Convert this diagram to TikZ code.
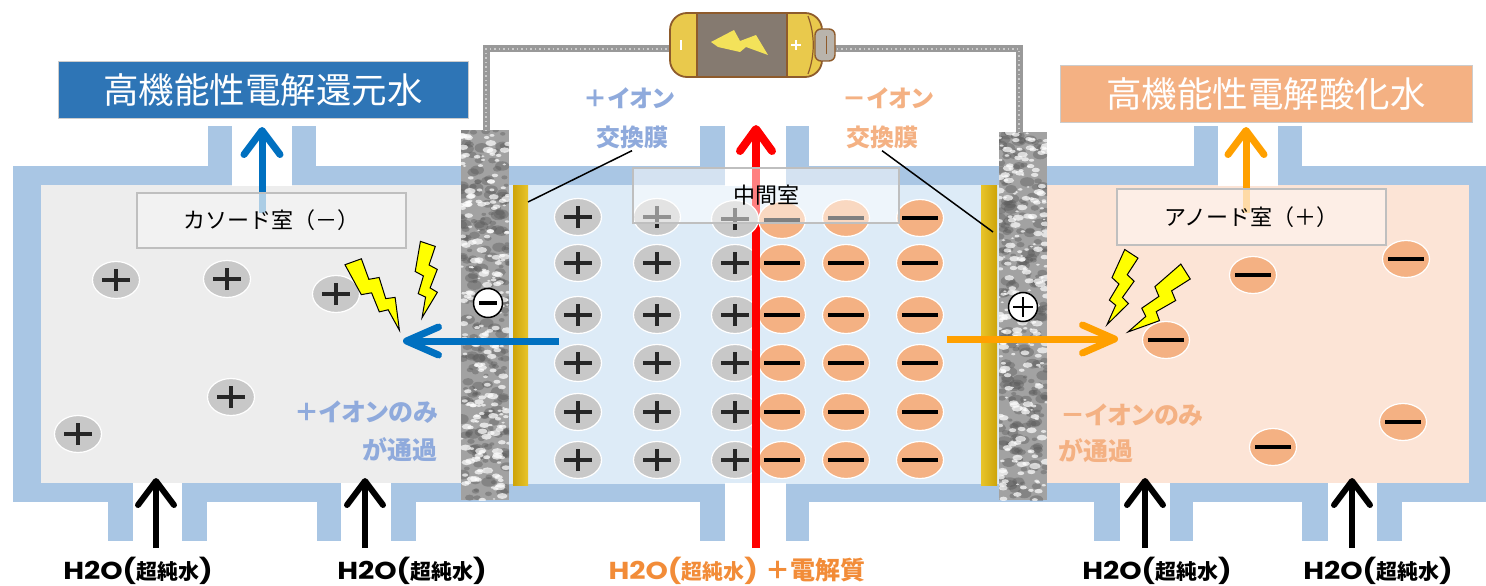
\documentclass[tikz,border=0pt]{standalone}
\usepackage{fontspec}
\usetikzlibrary{arrows.meta,shapes.geometric}
\newfontfamily\jp[RawFeature=+palt]{Noto Sans CJK JP}
\newfontfamily\jpw{Noto Sans CJK JP}
\newfontfamily\geo[FakeStretch=1.16]{Poppins}

\definecolor{wallblue}{HTML}{A9C6E4}
\definecolor{cathodebg}{HTML}{EDEDED}
\definecolor{middlebg}{HTML}{DDEBF7}
\definecolor{anodebg}{HTML}{FCE4D6}
\definecolor{titleblue}{HTML}{2E75B6}
\definecolor{titleorange}{HTML}{F4B183}
\definecolor{iongrey}{HTML}{C8C8C8}
\definecolor{ionorange}{HTML}{F4B183}
\definecolor{labelblue}{HTML}{8FAADC}
\definecolor{labelorange}{HTML}{F4B183}
\definecolor{feedorange}{HTML}{F28C38}
\definecolor{flowblue}{HTML}{0070C0}
\definecolor{floworange}{HTML}{FFA000}
\definecolor{foilgold}{HTML}{E8C42A}
\definecolor{foildark}{HTML}{CDA40A}
\definecolor{boltyellow}{HTML}{FFFF00}
\definecolor{batyellow}{HTML}{E9C94C}
\definecolor{batbody}{HTML}{857A70}
\definecolor{batedge}{HTML}{8E5B2C}
\definecolor{batnub}{HTML}{B9B4AC}
\definecolor{batbolt}{HTML}{F3E25A}
\definecolor{platebase}{HTML}{A2A2A2}

% speckled metal texture for an electrode plate: x, y, width, height
\newcommand\platetexture[4]{%
  \begin{scope}
    \clip (#1,#2) rectangle ++(#3,#4);
    \fill[platebase] (#1,#2) rectangle ++(#3,#4);
    \foreach \k in {1,...,220}{%
      \pgfmathsetmacro\sx{#1+rnd*#3}%
      \pgfmathsetmacro\sy{#2+rnd*#4}%
      \pgfmathsetmacro\sr{1.5+rnd*3.5}%
      \fill[black!65,opacity=0.4] (\sx,\sy) ellipse [x radius=\sr*1.5, y radius=\sr];
    }
    \foreach \k in {1,...,240}{%
      \pgfmathsetmacro\sx{#1+rnd*#3}%
      \pgfmathsetmacro\sy{#2+rnd*#4}%
      \pgfmathsetmacro\sr{0.8+rnd*2.4}%
      \fill[white,opacity=0.7] (\sx,\sy) ellipse [x radius=\sr*1.8, y radius=\sr];
    }
  \end{scope}}

\tikzset{
  pion/.style={ellipse, minimum width=47pt, minimum height=37pt, inner sep=0pt,
    fill=iongrey, draw=white, line width=1.2pt,
    path picture={\draw[line width=3.2pt, black!85]
      ([xshift=-14pt]path picture bounding box.center) -- ([xshift=14pt]path picture bounding box.center)
      ([yshift=-11pt]path picture bounding box.center) -- ([yshift=11pt]path picture bounding box.center);}},
  nion/.style={ellipse, minimum width=47pt, minimum height=37pt, inner sep=0pt,
    fill=ionorange, draw=white, line width=1.2pt,
    path picture={\draw[line width=4.5pt, black]
      ([xshift=-18pt]path picture bounding box.center) -- ([xshift=18pt]path picture bounding box.center);}},
  platesign/.style={circle, minimum size=29pt, inner sep=0pt, fill=white, draw=black, line width=1.5pt},
  platesignminus/.style={platesign,
    path picture={\draw[line width=3.5pt]
      ([xshift=-9pt]path picture bounding box.center) -- ([xshift=9pt]path picture bounding box.center);}},
  platesignplus/.style={platesign,
    path picture={\draw[line width=2.4pt]
      ([xshift=-10pt]path picture bounding box.center) -- ([xshift=10pt]path picture bounding box.center)
      ([yshift=-10pt]path picture bounding box.center) -- ([yshift=10pt]path picture bounding box.center);}},
  title/.style={draw=black!20, line width=1pt, text=white, inner sep=0pt,
    font=\jpw\fontsize{35.5}{40}\selectfont},
  roomlbl/.style={draw=black!25, line width=1.2pt, fill opacity=0.7, text opacity=1,
    inner sep=0pt, font=\jpw\fontsize{22}{26}\selectfont},
  memlbl/.style={inner sep=2pt, font=\jp\bfseries\fontsize{24}{28}\selectfont},
  passlbl/.style={inner sep=0pt, font=\jp\bfseries\fontsize{25}{28}\selectfont},
  feedlbl/.style={inner sep=0pt, anchor=base, font=\fontsize{24.5}{26}\selectfont},
  hflow/.style={line width=7pt, -{Straight Barb[length=32pt, width=28pt, round]}},
  vflow/.style={line width=7pt, -{Straight Barb[length=24pt, width=36pt, round]}},
  wire/.style={line width=7pt, draw=black!40},
  wiregrain/.style={line width=2.5pt, draw=white, opacity=0.5, dash pattern=on 1.5pt off 3pt},
  bolt/.pic={\filldraw[fill=boltyellow, draw=black, line width=1pt]
    (-8,0) -- (8,4) -- (3,24) -- (12,28) -- (6,48) -- (14,52) -- (0,80)
    -- (2,58) -- (-6,55) -- (-2,36) -- (-11,32) -- cycle;},
}

\newcommand\water{{\geo\bfseries H2O(}{\jp\bfseries\fontsize{21}{22}\selectfont 超純水}{\geo\bfseries )}}

\begin{document}
\begin{tikzpicture}[x=1pt, y=-1pt]
\pgfmathsetseed{2718}
\useasboundingbox (0,0) rectangle (1486,586);
\fill[white] (0,0) rectangle (1486,586);

% vessel walls with outlets and inlets
\fill[wallblue] (13,166) rectangle (1486,502);
\foreach \a/\b in {208/316, 700/809, 1194/1302}
  \fill[wallblue] (\a,126) rectangle (\b,166);
\foreach \a/\b in {108/207, 317/416, 700/809, 1094/1193, 1302/1402}
  \fill[wallblue] (\a,502) rectangle (\b,541);

% chambers
\fill[cathodebg] (41,185) rectangle (462,483);
\fill[middlebg] (509,185) rectangle (999,484);
\fill[anodebg] (1047,185) rectangle (1469,483);

% openings of the pipes
\foreach \a/\b in {232/292, 725/786, 1218/1278}
  \fill[white] (\a,126) rectangle (\b,185.5);
\foreach \a/\b in {133/182, 341/391, 725/786, 1120/1170, 1328/1377}
  \fill[white] (\a,482.5) rectangle (\b,541.5);

% ion exchange membranes (gold foils)
\shade[left color=foildark, right color=foilgold] (513,185) rectangle (528,485);
\shade[left color=foilgold, right color=foildark] (981,185) rectangle (997,485);

% electrode plates
\platetexture{461}{130}{48}{370}
\platetexture{999}{132}{48}{368}
\coordinate (elLtop) at (486,131);
\coordinate (elRtop) at (1019,133);

% battery terminals and wiring
\coordinate (batL) at (672,49);
\coordinate (batR) at (832,49);
\draw[wire] (elLtop) |- (batL);
\draw[wire] (batR) -| (elRtop);
\draw[wiregrain] (elLtop) |- (batL);
\draw[wiregrain] (batR) -| (elRtop);

% battery
\filldraw[fill=batyellow, draw=batedge, line width=1.8pt, rounded corners=17pt] (670,13) rectangle (822,77);
\fill[batbody] (697,14) rectangle (787,76);
\draw[batedge, line width=1.5pt] (697,14) -- (697,76) (787,14) -- (787,76);
\draw[batedge, line width=1.2pt] (808,16) .. controls (815,35) and (815,55) .. (808,74);
\filldraw[fill=batnub, draw=batedge, line width=1.4pt, rounded corners=6pt] (815,29) rectangle (835,61);
\draw[batedge, line width=1pt] (826,36) -- (826,54);
\fill[batbolt] (711,42) -- (734,30) -- (740,41) -- (756,35) -- (768,55) -- (746,47) -- (740,52) -- (718,47) -- cycle;
\draw[white, line width=2.5pt] (681,40) -- (681,50);
\draw[white, line width=2.5pt] (791,45) -- (801,45) (796,40) -- (796,50);

% plate polarity marks
\node[platesignminus] (signL) at (488,303) {};
\node[platesignplus] (signR) at (1023,307) {};

% ions in the middle chamber
\foreach \y [count=\r from 2] in {263,315,363,412,460} {
  \node[pion] (mp1-\r) at (578,\y) {};
  \node[pion] (mp2-\r) at (657,\y) {};
  \node[pion] (mp3-\r) at (735,\y) {};
  \node[nion] (mn1-\r) at (782,\y) {};
  \node[nion] (mn2-\r) at (846,\y) {};
  \node[nion] (mn3-\r) at (920,\y) {};
}

% feed of water plus electrolyte through the middle chamber
\coordinate (feedS) at (756,548);
\coordinate (feedE) at (756,125);
\draw[red, line width=8pt, -{Straight Barb[length=22pt, width=32pt, round]}] (feedS) -- (feedE);

\node[pion] (mp1-1) at (578,217) {};
\node[pion] (mp2-1) at (657,217) {};
\node[pion] (mp3-1) at (735,219) {};
\node[nion] (mn1-1) at (782,220) {};
\node[nion] (mn2-1) at (846,218) {};
\node[nion] (mn3-1) at (920,218) {};

\node[roomlbl, fill=white, fill opacity=0.5, minimum width=266pt, minimum height=55pt] (midroom) at (766,195.5) {中間室};

% ions in the cathode chamber
\node[pion] (cp1) at (116,280) {};
\node[pion] (cp2) at (227,279) {};
\node[pion] (cp3) at (336,294) {};
\node[pion] (cp4) at (231,397) {};
\node[pion] (cp5) at (78,434) {};

% ions in the anode chamber
\node[nion] (an1) at (1253,275) {};
\node[nion] (an2) at (1406,259) {};
\node[nion] (an3) at (1166,340) {};
\node[nion] (an4) at (1273,447) {};
\node[nion] (an5) at (1403,422) {};

% sparks near the plates
\pic[rotate=34, scale=1.06] at (352,260) {bolt};
\pic[rotate=-4.5, scale=0.95] at (428,242) {bolt};
\pic[rotate=-19, scale=0.96] at (1132,252) {bolt};
\pic[rotate=-43.6, scale=1.07] at (1187,270) {bolt};

% ion migration arrows
\coordinate (migLs) at (559,341);
\coordinate (migLe) at (403,341);
\coordinate (migRs) at (947,339);
\coordinate (migRe) at (1118,339);
\draw[hflow, flowblue] (migLs) -- (migLe);
\draw[hflow, floworange] (migRs) -- (migRe);

% product outflow arrows
\coordinate (outLs) at (262,213);
\coordinate (outLe) at (262,127);
\coordinate (outRs) at (1246,213);
\coordinate (outRe) at (1246,127);
\draw[vflow, flowblue] (outLs) -- (outLe);
\draw[vflow, floworange] (outRs) -- (outRe);

% chamber name boxes
\node[roomlbl, fill=black!4, minimum width=269pt, minimum height=55pt] (cathroom) at (271.5,220.5) {カソード室（－）};
\node[roomlbl, fill=anodebg!45, minimum width=269pt, minimum height=56pt] (anroom) at (1251.5,217) {アノード室（＋）};

% product titles
\node[title, fill=titleblue, minimum width=410pt, minimum height=56pt] (prodL) at (263,90) {高機能性電解還元水};
\node[title, fill=titleorange, minimum width=412pt, minimum height=57pt] (prodR) at (1266,94) {高機能性電解酸化水};

% membrane captions
\node[memlbl, text=labelblue] (memL1) at (629,98) {＋イオン};
\node[memlbl, text=labelblue] (memL2) at (632,137) {交換膜};
\node[memlbl, text=labelorange] (memR1) at (888,98) {－イオン};
\node[memlbl, text=labelorange] (memR2) at (882,137) {交換膜};
\coordinate (foilL) at (528,202);
\coordinate (foilR) at (993,232);
\draw[black, line width=1.5pt] (memL2.south) -- (foilL);
\draw[black, line width=1.5pt] (memR2.south) -- (foilR);

% passage notes
\node[passlbl, text=labelblue, anchor=east] (passL1) at (438,412) {＋イオンのみ};
\node[passlbl, text=labelblue, anchor=east] (passL2) at (438,450) {が通過};
\node[passlbl, text=labelorange, anchor=west] (passR1) at (1060,415) {－イオンのみ};
\node[passlbl, text=labelorange, anchor=west] (passR2) at (1058,451) {が通過};

% inlet arrows and water labels
\foreach \x/\n in {156/1, 365/2, 1145/3, 1352/4} {
  \coordinate (inS\n) at (\x,548);
  \coordinate (inE\n) at (\x,478);
  \draw[black, line width=6pt, -{Straight Barb[length=24pt, width=36pt, round]}] (inS\n) -- (inE\n);
}
\node[feedlbl] (w1) at (138,579) {\water};
\node[feedlbl] (w2) at (412,579) {\water};
\node[feedlbl] (w3) at (1157,579) {\water};
\node[feedlbl] (w4) at (1378,579) {\water};
\node[feedlbl, text=feedorange] (wmid) at (737,579)
  {\water\ {\jp\bfseries\fontsize{25}{28}\selectfont ＋電解質}};
\end{tikzpicture}
\end{document}
